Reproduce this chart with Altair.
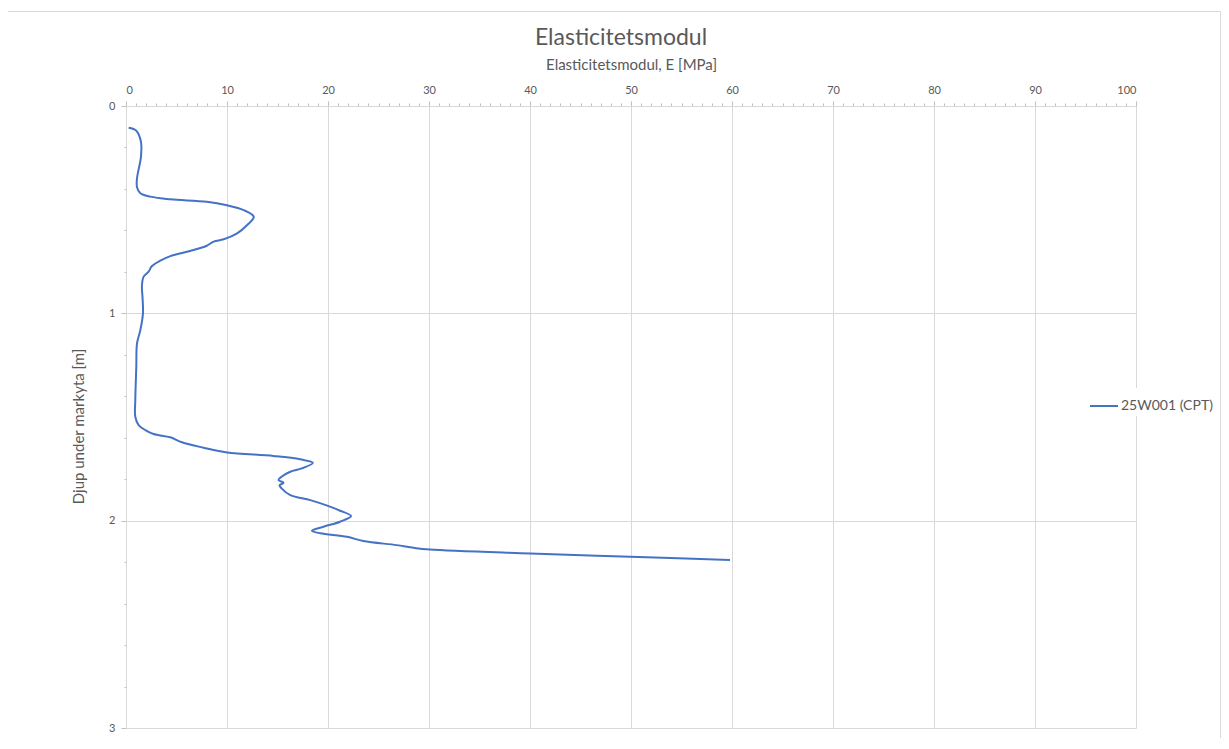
import altair as alt
import pandas as pd

# Data
depth_m = [0.105, 0.119, 0.172, 0.245, 0.349, 0.392, 0.421, 0.437, 0.450, 0.462,
           0.479, 0.502, 0.534, 0.574, 0.614, 0.643, 0.654, 0.674, 0.703, 0.724,
           0.746, 0.772, 0.799, 0.823, 0.863, 0.936, 1.000, 1.081, 1.145, 1.257,
           1.418, 1.499, 1.539, 1.563, 1.582, 1.598, 1.622, 1.648, 1.671, 1.688,
           1.704, 1.721, 1.748, 1.764, 1.788, 1.804, 1.817, 1.830, 1.844, 1.877,
           1.901, 1.930, 1.952, 1.978, 2.005, 2.029, 2.049, 2.061, 2.078, 2.098,
           2.118, 2.131, 2.139, 2.158, 2.174, 2.190]
e_mpa = [0.26, 1.02, 1.48, 1.48, 1.09, 1.09, 1.42, 2.4, 4.39, 8.0,
         10.0, 11.65, 12.65, 12.0, 11.0, 9.67, 8.68, 8.0, 6.04, 4.39,
         3.4, 2.57, 2.24, 1.75, 1.58, 1.65, 1.68, 1.42, 1.09, 1.02,
         0.92, 0.92, 1.25, 1.91, 2.73, 4.39, 5.54, 7.68, 10.0, 14.6,
         17.26, 18.5, 17.4, 16.27, 15.4, 15.1, 15.6, 15.2, 15.4, 16.27,
         18.25, 20.06, 21.2, 22.28, 21.2, 19.56, 18.4, 19.24, 21.88, 23.5,
         26.8, 28.5, 30.1, 40.0, 49.9, 59.8]
series_name = "25W001 (CPT)"
chart_title = "Elasticitetsmodul"

x_ticks = list(range(0, 101))
y_ticks = [round(i * 0.2, 1) for i in range(0, 16)]

df = pd.DataFrame({
    "i": list(range(len(depth_m))),
    "depth": depth_m,
    "E": e_mpa,
    "serie": [series_name] * len(depth_m),
})

FONT = "Lato"
GREY = "#595959"
GRID = "#d9d9d9"

one = pd.DataFrame({"a": [0]})

frame = alt.Chart(one).mark_rect(
    fill=None, stroke=GRID, strokeWidth=1
).encode(
    x=alt.value(-118.5), x2=alt.value(1094.5),
    y=alt.value(-94.5), y2=alt.value(700)
)

title = alt.Chart(one).mark_text(
    font=FONT, fontSize=23, color=GREY, align="center", baseline="middle"
).encode(
    x=alt.value(495), y=alt.value(-68), text=alt.value(chart_title)
)

line = alt.Chart(df).mark_line(strokeWidth=2, interpolate="catmull-rom").encode(
    x=alt.X(
        "E:Q",
        scale=alt.Scale(domain=[0, 100], nice=False, zero=False),
        axis=alt.Axis(
            orient="top",
            title="Elasticitetsmodul, E [MPa]",
            values=x_ticks,
            labelExpr="datum.value % 10 === 0 ? datum.label : ''",
            labelOverlap=False,
            gridOpacity={"condition": {"test": "datum.value % 10 === 0", "value": 1}, "value": 0},
            tickSize={"condition": {"test": "datum.value % 10 === 0", "value": 5}, "value": 3},
            labelPadding=6,
            titlePadding=12,
        ),
    ),
    y=alt.Y(
        "depth:Q",
        scale=alt.Scale(domain=[0, 3], reverse=True, nice=False, zero=False),
        axis=alt.Axis(
            title="Djup under markyta [m]",
            values=y_ticks,
            labelExpr="datum.value % 1 === 0 ? format(datum.value, 'd') : ''",
            labelOverlap=False,
            gridOpacity={"condition": {"test": "datum.value % 1 === 0", "value": 1}, "value": 0},
            tickSize={"condition": {"test": "datum.value % 1 === 0", "value": 5}, "value": 2},
            labelPadding=6,
            titlePadding=22,
            titleY=320,
        ),
    ),
    color=alt.Color(
        "serie:N",
        scale=alt.Scale(range=["#4472C4"]),
        legend=alt.Legend(
            title=None,
            orient="none",
            legendX=960,
            legendY=282,
            symbolType="stroke",
            symbolSize=784,
            symbolStrokeWidth=2,
            labelFontSize=14,
            labelColor=GREY,
            labelFont=FONT,
            labelOffset=2,
            fillColor="white",
            padding=3,
        ),
    ),
    order=alt.Order("i:Q"),
)

chart = alt.layer(frame, title, line).properties(
    width=1010,
    height=622,
    autosize=alt.AutoSizeParams(type="none"),
    padding={"left": 118, "top": 98, "right": 85, "bottom": 10},
).configure_view(stroke=None).configure_axis(
    domainColor=GRID,
    gridColor=GRID,
    tickColor="#bfbfbf",
    labelColor=GREY,
    titleColor=GREY,
    labelFont=FONT,
    titleFont=FONT,
    labelFontSize=11,
    titleFontSize=15,
    titleFontWeight="normal",
)

chart.save("out.html", embed_options={"renderer": "svg", "actions": False})
